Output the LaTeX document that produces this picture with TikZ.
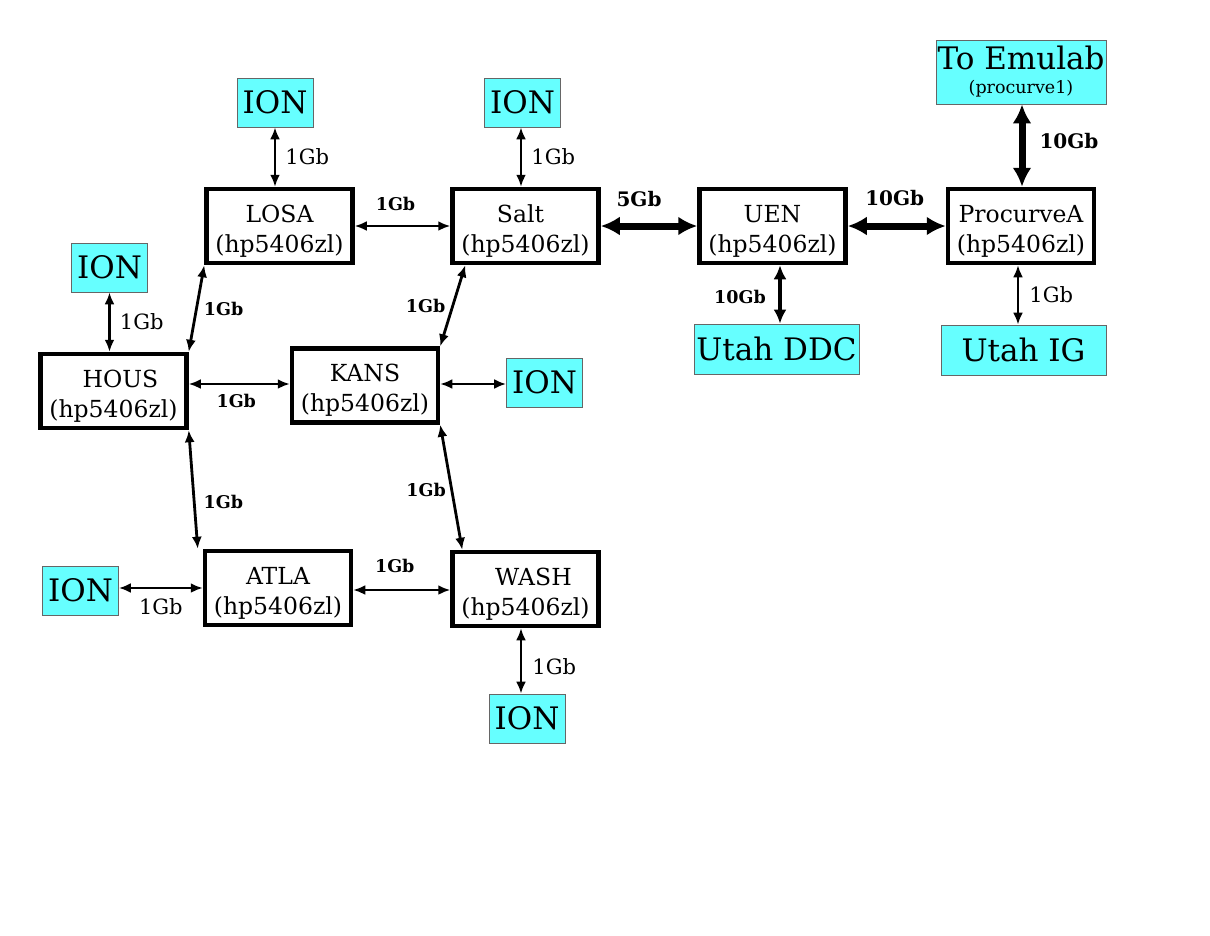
\documentclass[tikz,border=0pt]{standalone}
\usepackage{fontspec}
\setmainfont{DejaVu Serif}
\usetikzlibrary{arrows.meta,calc}
\definecolor{ioncyan}{RGB}{102,255,255}
\newcommand{\rtop}{\rule{0pt}{27pt}}
\begin{document}
\begin{tikzpicture}[x=1pt,y=-1pt,
  router/.style={draw, line width=4.5pt, fill=white, minimum width=146pt, minimum height=74pt, inner sep=0pt, align=center, font=\fontsize{23.5}{30}\selectfont},
  ext/.style={draw=black!60, line width=0.8pt, fill=ioncyan, inner sep=0pt, align=center, font=\fontsize{31}{34}\selectfont},
  ion/.style={ext, minimum width=76pt, minimum height=49pt},
  link/.style={line width=2.8pt, {Latex[length=12pt,width=10pt]}-{Latex[length=12pt,width=10pt]}},
  fat/.style={line width=7pt, {Latex[length=19pt,width=19pt]}-{Latex[length=19pt,width=19pt]}},
  mid/.style={line width=4.5pt, {Latex[length=14pt,width=13pt]}-{Latex[length=14pt,width=13pt]}},
  lbl/.style={font=\fontsize{21}{24}\selectfont, inner sep=0pt},
  blbl/.style={font=\bfseries\fontsize{17.5}{20}\selectfont, inner sep=0pt},
  Blbl/.style={font=\bfseries\fontsize{20}{22}\selectfont, inner sep=0pt}]
\useasboundingbox (0,0) rectangle (1210,935);
\fill[white] (0,0) rectangle (1210,935);
% routers
\node[router] (losa) at (279.5,226) {\rtop LOSA\\(hp5406zl)};
\node[router] (salt) at (525.5,226) {\rtop\hspace*{-10pt}Salt\\(hp5406zl)};
\node[router] (uen) at (772.5,226) {\rtop UEN\\(hp5406zl)};
\node[router] (proa) at (1021,226) {\rtop ProcurveA\\(hp5406zl)};
\node[router] (hous) at (113.5,391) {\rtop\hspace*{14pt}HOUS\\(hp5406zl)};
\node[router] (kans) at (365,385.5) {\rtop KANS\\(hp5406zl)};
\node[router] (atla) at (278,588) {\rtop ATLA\\(hp5406zl)};
\node[router] (wash) at (525.5,589) {\rtop\hspace*{16pt}WASH\\(hp5406zl)};
% external
\node[ion] (ion1) at (275,102.5) {ION};
\node[ion] (ion2) at (522.5,102.5) {ION};
\node[ion] (ion3) at (109.5,267.5) {ION};
\node[ion] (ion4) at (544.5,382.5) {ION};
\node[ion] (ion5) at (80.5,590.5) {ION};
\node[ion] (ion6) at (527,718.5) {ION};
\node[ext, minimum width=170pt, minimum height=64pt] (emulab) at (1021,72) {To Emulab\\[-10pt]{\fontsize{17.5}{20}\selectfont (procurve1)}};
\node[ext, minimum width=165pt, minimum height=50pt] (ddc) at (776.5,349) {Utah DDC};
\node[ext, minimum width=165pt, minimum height=50pt] (ig) at (1023.5,350) {Utah IG};
% connectors
\draw[link] (ion1.south) -- (ion1.south |- losa.north) node[lbl, midway, right=9pt] {1Gb};
\draw[link] (ion2.south -| 521,0) -- (521,0 |- salt.north) node[lbl, midway, right=9pt] {1Gb};
\draw[link] (losa.east) -- (salt.west) node[blbl, midway, above=14pt, xshift=-7pt] {1Gb};
\draw[fat] (salt.east) -- (uen.west) node[Blbl, midway, above=16pt, xshift=-10pt] {5Gb};
\draw[fat] (uen.east) -- (proa.west) node[Blbl, midway, above=17pt, xshift=-2pt] {10Gb};
\draw[fat] (emulab.south -| 1022,0) -- (1022,0 |- proa.north) node[Blbl, midway, right=14pt, yshift=5pt] {10Gb};
\draw[mid] (uen.south -| 780,0) -- (780,0 |- ddc.north) node[blbl, midway, left=12pt, yshift=-3pt] {10Gb};
\draw[link] (proa.south -| 1018,0) -- (1018,0 |- ig.north) node[lbl, midway, right=10pt] {1Gb};
\draw[link] (ion3.south) -- (ion3.south |- hous.north) node[lbl, midway, right=9pt] {1Gb};
\draw[link] (hous.north east) -- (losa.south west) node[blbl, midway, right=6pt] {1Gb};
\draw[link] (hous.east |- 0,384) -- (kans.west |- 0,384) node[blbl, midway, below=9pt, xshift=-3pt] {1Gb};
\draw[link] (kans.north east) -- ($(salt.south west)+(15,0)$) node[blbl, midway, left=6pt] {1Gb};
\draw[link] (kans.east |- 0,384) -- (ion4.west |- 0,384);
\draw[link] (hous.south east) -- ($(atla.north west)+(-5,0)$) node[blbl, midway, right=9pt, yshift=-12pt] {1Gb};
\draw[link] (kans.south east) -- ($(wash.north west)+(12,0)$) node[blbl, midway, left=4pt, yshift=-3pt] {1Gb};
\draw[link] (ion5.east |- 0,588) -- (atla.west |- 0,588) node[lbl, midway, below=9pt] {1Gb};
\draw[link] (atla.east |- 0,590) -- (wash.west |- 0,590) node[blbl, midway, above=16pt, xshift=-7pt] {1Gb};
\draw[link] (wash.south -| 521,0) -- (521,0 |- ion6.north) node[lbl, midway, right=10pt, yshift=-6pt] {1Gb};
\end{tikzpicture}
\end{document}
